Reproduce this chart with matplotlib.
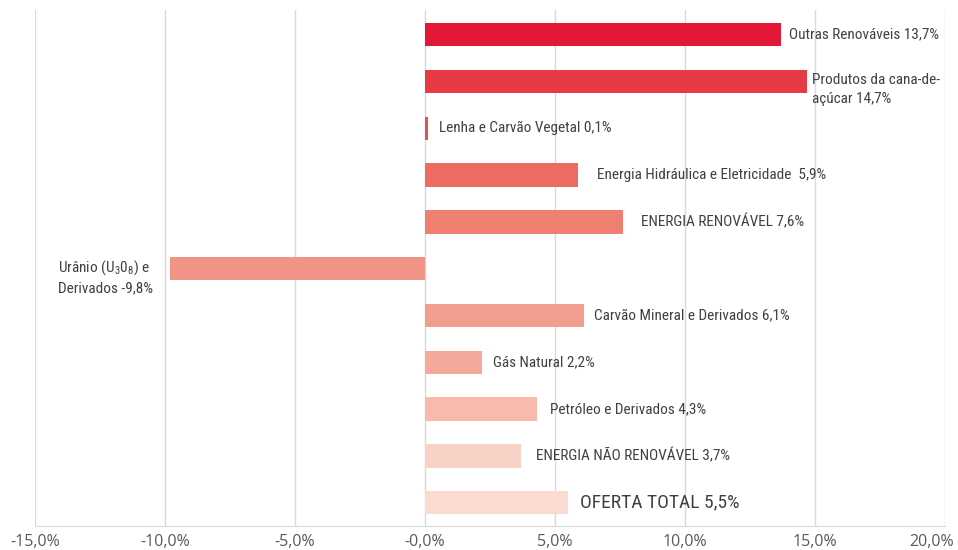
import matplotlib
matplotlib.use("Agg")
import matplotlib.pyplot as plt
from matplotlib.transforms import ScaledTranslation

plt.rcParams['font.family'] = ['Roboto Condensed', 'DejaVu Sans']
plt.rcParams['mathtext.fontset'] = 'custom'
plt.rcParams['mathtext.rm'] = 'Roboto Condensed'
plt.rcParams['mathtext.it'] = 'Roboto Condensed'

# data (top to bottom)
labels = [
    "Outras Renováveis 13,7%",
    "Produtos da cana-de-\naçúcar 14,7%",
    "Lenha e Carvão Vegetal 0,1%",
    "Energia Hidráulica e Eletricidade  5,9%",
    "ENERGIA RENOVÁVEL 7,6%",
    "Urânio (U$_3$0$_8$) e\nDerivados -9,8%",
    "Carvão Mineral e Derivados 6,1%",
    "Gás Natural 2,2%",
    "Petróleo e Derivados 4,3%",
    "ENERGIA NÃO RENOVÁVEL 3,7%",
    "OFERTA TOTAL 5,5%",
]
values = [13.7, 14.7, 0.1, 5.9, 7.6, -9.8, 6.1, 2.2, 4.3, 3.7, 5.5]
colors = ["#E31837", "#E63B45", "#E8504E", "#EC6C61", "#EE7F71", "#F19386",
          "#F29E8F", "#F4A99A", "#F7BAAD", "#F8D1C7", "#FADAD1"]
# label left edge in % units
label_x = [14.0, 14.9, 0.55, 6.6, 8.3, -14.1, 6.5, 2.6, 4.8, 4.25, 5.95]
tick_vals = [-15, -10, -5, 0, 5, 10, 15, 20]
tick_text = ["-15,0%", "-10,0%", "-5,0%", "-0,0%", "5,0%", "10,0%", "15,0%", "20,0%"]

fig = plt.figure(figsize=(9.58, 5.5), dpi=100)
ax = fig.add_axes([35 / 958, 24 / 550, 910 / 958, 516 / 550])

y = list(range(len(values)))
ax.barh(y, values, height=0.5, color=colors, zorder=3)

for i, (lab, lx) in enumerate(zip(labels, label_x)):
    fs = 14 if i == len(labels) - 1 else 11
    dy = 0.17 if "\n" in lab else 0.0   # two-line labels sit a bit lower
    ax.text(lx, i + dy, lab, va='center', ha='left', fontsize=fs, color='#404040',
            linespacing=1.4, zorder=4)

ax.set_xlim(-15, 20)
ax.set_ylim(10.5, -0.53)
ax.set_xticks(tick_vals)
ax.set_xticklabels(tick_text, fontsize=11.5, color='#595959', family='Open Sans')
ax.set_yticks([])
ax.tick_params(axis='x', length=0, pad=6)
ax.grid(axis='x', color='#d9d9d9', linewidth=1, zorder=0)
for s in ['top', 'right', 'left']:
    ax.spines[s].set_visible(False)
ax.spines['bottom'].set_color('#d9d9d9')

# last tick label is pulled left so it stays inside the picture
last = ax.get_xticklabels()[-1]
last.set_transform(last.get_transform() + ScaledTranslation(-0.13, 0, fig.dpi_scale_trans))

fig.savefig("out.png", dpi=100)
